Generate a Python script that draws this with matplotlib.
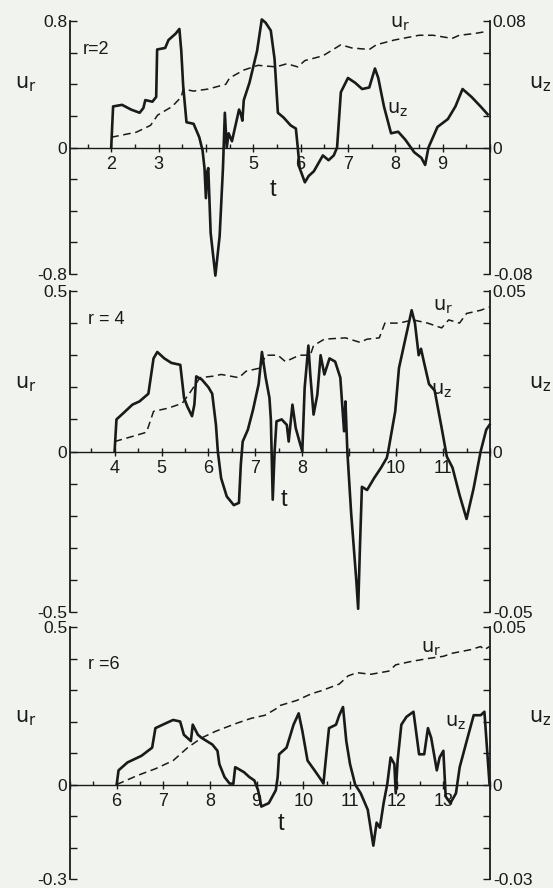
import matplotlib
matplotlib.use("Agg")
import matplotlib.pyplot as plt
import numpy as np

# ---------------- data ----------------
# panel r=2
t_ur_2 = [2.0, 2.53, 2.83, 2.98, 3.29, 3.48, 3.52, 3.74, 4.05, 4.42, 4.5, 4.8, 5.1, 5.48, 5.71, 5.94,
          6.09, 6.47, 6.85, 7.08, 7.45, 7.6, 7.98, 8.5, 8.8, 9.2, 9.35, 9.65, 9.95]
ur_2 = [0.065, 0.097, 0.14, 0.205, 0.26, 0.32, 0.37, 0.357, 0.37, 0.40, 0.44, 0.49, 0.52, 0.51, 0.53, 0.51,
        0.55, 0.58, 0.65, 0.63, 0.62, 0.65, 0.68, 0.71, 0.71, 0.69, 0.71, 0.72, 0.735]
t_uz_2 = [2.0, 2.04, 2.23, 2.42, 2.6, 2.68, 2.72, 2.87, 2.95, 2.97, 3.14, 3.21, 3.36, 3.44, 3.48, 3.52,
          3.59, 3.74, 3.86, 3.93, 3.97, 4.0, 4.03, 4.05, 4.1, 4.2, 4.29, 4.36, 4.4, 4.44, 4.48, 4.55,
          4.7, 4.74, 4.77, 4.8, 4.92, 5.08, 5.18, 5.26, 5.37, 5.45, 5.52, 5.64, 5.79, 5.9, 5.94, 5.98,
          6.09, 6.17, 6.28, 6.47, 6.59, 6.7, 6.77, 6.85, 7.0, 7.15, 7.3, 7.45, 7.57, 7.64, 7.76, 7.91,
          8.06, 8.21, 8.4, 8.55, 8.63, 8.7, 8.89, 9.11, 9.27, 9.42, 9.61, 9.8, 9.95]
uz_2 = [0.0, 0.026, 0.027, 0.024, 0.022, 0.025, 0.030, 0.029, 0.032, 0.062, 0.063, 0.068, 0.072, 0.075,
        0.061, 0.039, 0.016, 0.015, 0.0065, -0.002, -0.013, -0.032, -0.015, -0.013, -0.054, -0.081,
        -0.056, -0.013, 0.022, 0.0, 0.009, 0.004, 0.024, 0.021, 0.017, 0.030, 0.041, 0.061, 0.081, 0.079,
        0.074, 0.056, 0.022, 0.019, 0.014, 0.012, 0.0, -0.013, -0.022, -0.018, -0.015, -0.005, -0.008,
        -0.005, 0.0, 0.035, 0.044, 0.041, 0.037, 0.038, 0.050, 0.044, 0.026, 0.009, 0.010, 0.005,
        -0.003, -0.0065, -0.011, 0.0, 0.013, 0.018, 0.026, 0.037, 0.032, 0.026, 0.021]

# panel r=4
t_ur_4 = [4.0, 4.38, 4.68, 4.83, 5.14, 5.44, 5.59, 5.82, 6.12, 6.27, 6.65, 6.8, 7.1, 7.22, 7.48, 7.64,
          7.94, 8.17, 8.24, 8.47, 8.92, 9.23, 9.38, 9.64, 9.76, 10.06, 10.36, 10.67, 10.97, 11.12,
          11.35, 11.5, 11.8, 11.99]
ur_4 = [0.031, 0.047, 0.06, 0.125, 0.135, 0.15, 0.18, 0.23, 0.235, 0.24, 0.23, 0.25, 0.26, 0.30, 0.30,
        0.28, 0.30, 0.30, 0.33, 0.35, 0.354, 0.34, 0.35, 0.354, 0.40, 0.40, 0.41, 0.40, 0.385, 0.41,
        0.40, 0.43, 0.44, 0.45]
t_uz_4 = [4.0, 4.04, 4.19, 4.38, 4.53, 4.72, 4.83, 4.91, 5.06, 5.21, 5.4, 5.48, 5.55, 5.65, 5.7, 5.74,
          5.86, 6.0, 6.08, 6.16, 6.2, 6.27, 6.39, 6.54, 6.65, 6.69, 6.73, 6.84, 6.95, 7.07, 7.14, 7.22,
          7.3, 7.33, 7.37, 7.41, 7.45, 7.56, 7.67, 7.71, 7.79, 7.86, 7.94, 8.0, 8.05, 8.13, 8.17, 8.24,
          8.32, 8.39, 8.47, 8.58, 8.7, 8.81, 8.89, 8.92, 8.96, 9.04, 9.15, 9.19, 9.23, 9.27, 9.38, 9.53,
          9.68, 9.8, 9.83, 9.98, 10.06, 10.21, 10.33, 10.4, 10.48, 10.53, 10.59, 10.7, 10.82, 10.97,
          11.08, 11.2, 11.35, 11.5, 11.65, 11.8, 11.92, 11.99]
uz_4 = [0.0, 0.010, 0.012, 0.0146, 0.0156, 0.018, 0.029, 0.031, 0.029, 0.0276, 0.027, 0.0167, 0.014,
        0.011, 0.0146, 0.0234, 0.0224, 0.020, 0.018, 0.0083, 0.0, -0.0083, -0.014, -0.0167, -0.016,
        -0.004, 0.0031, 0.0068, 0.013, 0.021, 0.031, 0.023, 0.0167, 0.010, -0.015, 0.0, 0.0094, 0.010,
        0.0083, 0.0031, 0.0146, 0.0073, 0.0031, 0.0, 0.0198, 0.033, 0.024, 0.0115, 0.0177, 0.030,
        0.024, 0.029, 0.028, 0.023, 0.0063, 0.0156, 0.0, -0.019, -0.040, -0.049, -0.029, -0.011,
        -0.012, -0.0083, -0.005, -0.002, 0.0, 0.0125, 0.026, 0.036, 0.044, 0.040, 0.030, 0.032, 0.028,
        0.021, 0.019, 0.0073, -0.0016, -0.005, -0.0135, -0.021, -0.0115, 0.0, 0.0068, 0.0083]

# panel r=6
t_ur_6 = [6.0, 6.45, 6.83, 7.21, 7.52, 7.82, 8.12, 8.58, 8.88, 9.18, 9.41, 9.48, 9.86, 10.17, 10.39,
          10.77, 10.96, 11.15, 11.45, 11.83, 11.98, 12.29, 12.67, 13.0, 13.2, 13.58, 13.8, 13.88, 13.99]
ur_6 = [0.0, 0.029, 0.05, 0.076, 0.117, 0.148, 0.169, 0.195, 0.21, 0.22, 0.24, 0.25, 0.267, 0.288,
        0.298, 0.319, 0.345, 0.355, 0.35, 0.36, 0.38, 0.39, 0.40, 0.407, 0.417, 0.428, 0.438, 0.428, 0.438]
t_uz_6 = [6.0, 6.04, 6.23, 6.53, 6.76, 6.83, 7.06, 7.21, 7.36, 7.44, 7.59, 7.63, 7.74, 7.82, 8.05, 8.16,
          8.2, 8.31, 8.42, 8.5, 8.54, 8.58, 8.73, 8.84, 8.95, 9.03, 9.1, 9.26, 9.41, 9.45, 9.48, 9.64,
          9.79, 9.9, 9.98, 10.09, 10.24, 10.39, 10.43, 10.5, 10.55, 10.7, 10.77, 10.85, 10.92, 11.0,
          11.11, 11.23, 11.38, 11.5, 11.57, 11.64, 11.72, 11.8, 11.87, 11.95, 11.98, 12.02, 12.1, 12.21,
          12.36, 12.48, 12.59, 12.67, 12.74, 12.86, 12.92, 13.0, 13.05, 13.15, 13.27, 13.35, 13.5, 13.65,
          13.8, 13.88, 13.99]
uz_6 = [0.0, 0.0045, 0.007, 0.0091, 0.0117, 0.0179, 0.0195, 0.0205, 0.020, 0.0158, 0.0138, 0.019,
        0.0158, 0.0148, 0.0127, 0.0107, 0.0065, 0.0024, 0.0003, 0.0003, 0.0055, 0.0052, 0.0039, 0.0024,
        0.0013, -0.0018, -0.007, -0.0059, -0.0018, 0.0024, 0.0096, 0.0117, 0.019, 0.0226, 0.0169,
        0.0076, 0.0045, 0.0013, 0.0003, 0.0107, 0.0179, 0.019, 0.022, 0.0246, 0.0138, 0.0065, 0.0,
        -0.0028, -0.008, -0.0194, -0.0121, -0.0137, -0.0059, 0.0003, 0.0086, 0.0065, -0.0028, 0.0076,
        0.019, 0.0215, 0.0231, 0.0096, 0.0096, 0.0179, 0.0148, 0.0045, 0.0086, 0.0107, -0.0038,
        -0.0059, -0.0028, 0.0055, 0.0138, 0.022, 0.022, 0.0231, 0.0]

panels = [
    dict(r="r=2", t_ur=t_ur_2, ur=ur_2, t_uz=t_uz_2, uz=uz_2, xlim=(1.13, 10.0),
         yl=(-0.8, 0.8), yr=(-0.08, 0.08), ystep=0.2,
         ylab=["-0.8", "0", "0.8"], yrlab=["-0.08", "0", "0.08"],
         xlabels=[2, 3, 5, 6, 7, 8, 9],
         rpos=(1.4, 0.62), tpos=(5.42, -0.27), urpos=(8.1, 0.78), uzpos=(8.05, 0.24), labely=0.4),
    dict(r="r = 4", t_ur=t_ur_4, ur=ur_4, t_uz=t_uz_4, uz=uz_4, xlim=(3.05, 12.0),
         yl=(-0.5, 0.5), yr=(-0.05, 0.05), ystep=0.1,
         ylab=["-0.5", "0", "0.5"], yrlab=["-0.05", "0", "0.05"],
         xlabels=[4, 5, 6, 7, 8, 10, 11],
         rpos=(3.43, 0.41), tpos=(7.6, -0.15), urpos=(11.0, 0.45), uzpos=(10.97, 0.19), labely=0.21),
    dict(r="r =6", t_ur=t_ur_6, ur=ur_6, t_uz=t_uz_6, uz=uz_6, xlim=(5.0, 14.0),
         yl=(-0.3, 0.5), yr=(-0.03, 0.05), ystep=0.1,
         ylab=["-0.3", "0", "0.5"], yrlab=["-0.03", "0", "0.05"],
         xlabels=[6, 7, 8, 9, 10, 11, 12, 13],
         rpos=(5.38, 0.38), tpos=(9.52, -0.126), urpos=(12.74, 0.43), uzpos=(13.27, 0.195), labely=0.21),
]

bg = "#f1f3ee"
ink = "#1a1a1a"
plt.rcParams['font.family'] = ['Liberation Sans', 'DejaVu Sans']

fig = plt.figure(figsize=(5.53, 8.88), dpi=100, facecolor=bg)
boxes = [(0.1266, 0.6914, 0.7595, 0.2849),
         (0.1266, 0.3108, 0.7595, 0.3615),
         (0.1266, 0.0101, 0.7595, 0.2838)]

for p, box in zip(panels, boxes):
    ax = fig.add_axes(box)
    ax.set_facecolor('none')
    ax2 = ax.twinx()
    ax2.set_position(box)
    ax2.set_facecolor('none')

    ax.plot(p["t_ur"], p["ur"], color=ink, lw=1.1, ls=(0, (5, 3)))
    ax2.plot(p["t_uz"], p["uz"], color=ink, lw=1.9, clip_on=False)

    ax.set_xlim(*p["xlim"])
    ax2.set_xlim(*p["xlim"])
    ax.set_ylim(*p["yl"])
    ax2.set_ylim(*p["yr"])

    for s in ["top", "right"]:
        ax.spines[s].set_visible(False)
    for s in ["top", "left", "bottom"]:
        ax2.spines[s].set_visible(False)
    ax.spines["left"].set_color(ink)
    ax2.spines["right"].set_color(ink)
    ax.spines["left"].set_linewidth(1.3)
    ax2.spines["right"].set_linewidth(1.3)
    ax.spines["bottom"].set_position(("data", 0))
    ax.spines["bottom"].set_color(ink)
    ax.spines["bottom"].set_linewidth(1.0)

    lo, hi = p["yl"]
    nsteps = int(round((hi - lo) / p["ystep"]))
    yt = [lo + i * p["ystep"] for i in range(nsteps + 1)]
    ax.set_yticks(yt)
    ax.set_yticklabels([p["ylab"][0] if abs(v - lo) < 1e-9 else ("0" if abs(v) < 1e-9 else
                        (p["ylab"][2] if abs(v - hi) < 1e-9 else "")) for v in yt])
    rlo, rhi = p["yr"]
    rt = [v / 10.0 for v in yt]
    ax2.set_yticks(rt)
    ax2.set_yticklabels([p["yrlab"][0] if abs(v - rlo) < 1e-9 else ("0" if abs(v) < 1e-9 else
                         (p["yrlab"][2] if abs(v - rhi) < 1e-9 else "")) for v in rt])
    ax.tick_params(axis="y", direction="in", length=5, width=1.0, colors=ink, labelsize=12.5, pad=2)
    ax2.tick_params(axis="y", direction="in", length=5, width=1.0, colors=ink, labelsize=12.5, pad=2)

    x0, x1 = p["xlim"]
    majors = list(range(int(np.ceil(x0)), int(np.floor(x1)) + 1))
    ax.set_xticks(majors)
    ax.set_xticklabels([str(m) if m in p["xlabels"] else "" for m in majors])
    halves = [m + 0.5 for m in range(int(np.floor(x0)), int(np.floor(x1)) + 1) if x0 < m + 0.5 < x1]
    ax.set_xticks(halves, minor=True)
    ax.tick_params(axis="x", which="major", direction="inout", length=6, width=1.0, colors=ink,
                   labelsize=13, pad=3)
    ax.tick_params(axis="x", which="minor", direction="in", length=3, width=1.0, colors=ink)
    ax2.tick_params(axis="x", which="both", length=0)

    ax.text(p["rpos"][0], p["rpos"][1], p["r"], fontsize=13, color=ink, va="center", ha="left")
    ax.text(p["tpos"][0], p["tpos"][1], "t", fontsize=17, color=ink, va="center", ha="center")
    ax.text(p["urpos"][0], p["urpos"][1], r"$\mathsf{u_r}$", fontsize=14, color=ink,
            va="center", ha="center")
    ax.text(p["uzpos"][0], p["uzpos"][1], r"$\mathsf{u_z}$", fontsize=14, color=ink,
            va="center", ha="center")
    ax.text(-0.105, (p["labely"] - lo) / (hi - lo), r"$\mathsf{u_r}$", transform=ax.transAxes,
            fontsize=15, color=ink, va="center", ha="center")
    ax.text(1.12, (p["labely"] - lo) / (hi - lo), r"$\mathsf{u_z}$", transform=ax.transAxes,
            fontsize=15, color=ink, va="center", ha="center")

fig.savefig("out.png", dpi=100, facecolor=bg)
